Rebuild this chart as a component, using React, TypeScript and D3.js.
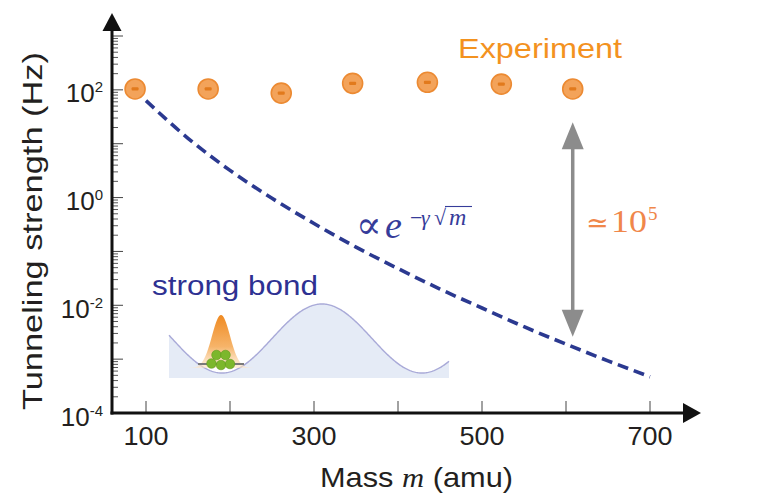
import React, { useEffect, useRef } from "react";
import * as d3 from "d3";

// x axis (mass, amu)
const massTicks = [100, 200, 300, 400, 500, 600, 700];
const massLabels = [100, 300, 500, 700];
// y axis (log decades)
const decades = [-4, -3, -2, -1, 0, 1, 2, 3];
const labelledDecades = [-4, -2, 0, 2];

// experiment points
const expMass = [87, 174, 261, 346, 435, 523, 608];
const expStrength = [104, 104, 87, 132, 138, 128, 104];

// theory curve (dashed)
const theoryMass = [100, 150, 200, 250, 300, 350, 400, 450, 500, 550, 600, 650, 700];
const theoryStrength = [63, 12.6, 3.2, 0.97, 0.33, 0.12, 0.048, 0.02, 0.0089, 0.004, 0.0019, 0.00093, 0.00047];

// the ~10^5 gap arrow
const gapMass = 608;
const gapRange = [25, 0.0026];

const W = 761;
const H = 502;
const SANS = "'Liberation Sans', Arial, Helvetica, sans-serif";
const SERIF = "'Liberation Serif', 'DejaVu Serif', 'Times New Roman', serif";

const App = () => {
  const ref = useRef<SVGSVGElement>(null);

  useEffect(() => {
    if (!ref.current) return;
    const svg = d3.select(ref.current);
    svg.selectAll("*").remove();

    const x = d3.scaleLinear().domain([100, 700]).range([146, 650]);
    const y = d3.scaleLog().domain([1e-4, 1e3]).range([413, 36]);
    const x0 = 112; // y axis position
    const y0 = 413; // x axis position

    // ---- inset: double well schematic ----
    const inset = svg.append("g");
    const wellPts = d3.range(169, 450, 1).map((px) => [
      px,
      338.5 + 34.5 * Math.cos((2 * Math.PI * (px - 222)) / 200),
    ]) as [number, number][];
    const area = d3.area<[number, number]>().x((d) => d[0]).y0(378).y1((d) => d[1]);
    inset.append("path").attr("d", area(wellPts)).attr("fill", "#e5ebf6");
    inset
      .append("path")
      .attr("d", d3.line()(wellPts))
      .attr("fill", "none")
      .attr("stroke", "#a9aad8")
      .attr("stroke-width", 1.4);

    const defs = svg.append("defs");
    const grad = defs
      .append("linearGradient")
      .attr("id", "wave")
      .attr("x1", 0)
      .attr("y1", 0)
      .attr("x2", 0)
      .attr("y2", 1);
    grad.append("stop").attr("offset", "0%").attr("stop-color", "#ef8a22");
    grad.append("stop").attr("offset", "60%").attr("stop-color", "#f6b46a");
    grad.append("stop").attr("offset", "100%").attr("stop-color", "#fde6c8").attr("stop-opacity", 0.6);

    const gauss = d3.range(188, 256, 1).map((px) => [
      px,
      368 - 53 * Math.exp(-((px - 221) ** 2) / (2 * 9 * 9)),
    ]) as [number, number][];
    inset
      .append("path")
      .attr("d", d3.area<[number, number]>().x((d) => d[0]).y0(368).y1((d) => d[1])(gauss))
      .attr("fill", "url(#wave)");
    inset
      .append("line")
      .attr("x1", 198)
      .attr("x2", 244)
      .attr("y1", 364)
      .attr("y2", 364)
      .attr("stroke", "#7a7a7a")
      .attr("stroke-width", 2.2);
    const balls = [
      [216.5, 355],
      [225.5, 355],
      [211.5, 363.5],
      [221, 365],
      [230, 364],
    ];
    inset
      .selectAll("circle")
      .data(balls)
      .join("circle")
      .attr("cx", (d) => d[0])
      .attr("cy", (d) => d[1])
      .attr("r", 4.8)
      .attr("fill", "#7cb72c")
      .attr("stroke", "#5f9a1c")
      .attr("stroke-width", 0.6);

    // ---- ticks ----
    const tickColor = "#444";
    svg
      .append("g")
      .selectAll("line")
      .data(massTicks)
      .join("line")
      .attr("x1", (d) => x(d))
      .attr("x2", (d) => x(d))
      .attr("y1", y0)
      .attr("y2", y0 - 12)
      .attr("stroke", tickColor)
      .attr("stroke-width", 1);

    const minor: number[] = [];
    decades.slice(0, -1).forEach((d) => {
      for (let k = 2; k <= 9; k++) minor.push(k * Math.pow(10, d));
    });
    svg
      .append("g")
      .selectAll("line")
      .data(minor)
      .join("line")
      .attr("x1", x0)
      .attr("x2", x0 + 6)
      .attr("y1", (d) => y(d))
      .attr("y2", (d) => y(d))
      .attr("stroke", tickColor)
      .attr("stroke-width", 0.9);
    svg
      .append("g")
      .selectAll("line")
      .data(decades)
      .join("line")
      .attr("x1", x0)
      .attr("x2", x0 + 11)
      .attr("y1", (d) => y(Math.pow(10, d)))
      .attr("y2", (d) => y(Math.pow(10, d)))
      .attr("stroke", tickColor)
      .attr("stroke-width", 1);

    // ---- axes with arrows ----
    svg
      .append("line")
      .attr("x1", x0)
      .attr("x2", x0)
      .attr("y1", y0 + 1.5)
      .attr("y2", 24)
      .attr("stroke", "#111")
      .attr("stroke-width", 3);
    svg
      .append("path")
      .attr("d", `M${x0},13 L${x0 + 9.5},31 L${x0 - 9.5},31 Z`)
      .attr("fill", "#111");
    svg
      .append("line")
      .attr("x1", x0 - 1.5)
      .attr("x2", 690)
      .attr("y1", y0)
      .attr("y2", y0)
      .attr("stroke", "#111")
      .attr("stroke-width", 3);
    svg
      .append("path")
      .attr("d", `M701,${y0} L683,${y0 - 10} L683,${y0 + 10} Z`)
      .attr("fill", "#111");

    // ---- tick labels ----
    svg
      .append("g")
      .selectAll("text")
      .data(massLabels)
      .join("text")
      .attr("x", (d) => x(d))
      .attr("y", 445)
      .attr("text-anchor", "middle")
      .attr("font-family", SANS)
      .attr("font-size", 25)
      .attr("fill", "#231f20")
      .attr("textLength", 45)
      .attr("lengthAdjust", "spacingAndGlyphs")
      .text((d) => d);

    const yl = svg
      .append("g")
      .selectAll("text")
      .data(labelledDecades)
      .join("text")
      .attr("x", 103)
      .attr("y", (d) => y(Math.pow(10, d)) + 12.5)
      .attr("text-anchor", "end")
      .attr("font-family", SANS)
      .attr("fill", "#231f20");
    yl.append("tspan").attr("font-size", 26).text("10");
    yl.append("tspan")
      .attr("font-size", 15)
      .attr("dy", -10)
      .text((d) => String(d));

    // ---- axis titles ----
    const xt = svg
      .append("text")
      .attr("x", 320)
      .attr("y", 487)
      .attr("font-family", SANS)
      .attr("font-size", 28)
      .attr("fill", "#231f20")
      .attr("textLength", 193)
      .attr("lengthAdjust", "spacingAndGlyphs");
    xt.append("tspan").text("Mass ");
    xt.append("tspan").attr("font-family", SERIF).attr("font-style", "italic").text("m");
    xt.append("tspan").text(" (amu)");

    svg
      .append("text")
      .attr("transform", "translate(42,231) rotate(-90)")
      .attr("text-anchor", "middle")
      .attr("font-family", SANS)
      .attr("font-size", 28)
      .attr("fill", "#231f20")
      .attr("textLength", 358)
      .attr("lengthAdjust", "spacingAndGlyphs")
      .text("Tunneling strength (Hz)");

    // ---- theory curve ----
    const line = d3
      .line<number>()
      .x((_, i) => x(theoryMass[i]))
      .y((d) => y(d))
      .curve(d3.curveMonotoneX);
    svg
      .append("path")
      .attr("d", line(theoryStrength))
      .attr("fill", "none")
      .attr("stroke", "#2b3990")
      .attr("stroke-width", 3.6)
      .attr("stroke-dasharray", "11 6");

    // ---- gap arrow ----
    const gx = x(gapMass);
    const gTop = y(gapRange[0]);
    const gBot = y(gapRange[1]);
    svg
      .append("line")
      .attr("x1", gx)
      .attr("x2", gx)
      .attr("y1", gTop + 20)
      .attr("y2", gBot - 20)
      .attr("stroke", "#8c8c8c")
      .attr("stroke-width", 3.5);
    svg
      .append("path")
      .attr("d", `M${gx},${gTop} L${gx + 11},${gTop + 27} L${gx - 11},${gTop + 27} Z`)
      .attr("fill", "#8c8c8c");
    svg
      .append("path")
      .attr("d", `M${gx},${gBot} L${gx + 11},${gBot - 27} L${gx - 11},${gBot - 27} Z`)
      .attr("fill", "#8c8c8c");

    // ---- experiment points ----
    const pts = svg
      .append("g")
      .selectAll("g")
      .data(expStrength)
      .join("g")
      .attr("transform", (d, i) => `translate(${x(expMass[i])},${y(d)})`);
    pts
      .append("circle")
      .attr("r", 10)
      .attr("fill", "#f3a35a")
      .attr("stroke", "#ec8a32")
      .attr("stroke-width", 1.6);
    pts
      .append("rect")
      .attr("x", -3.5)
      .attr("y", -1.6)
      .attr("width", 7)
      .attr("height", 3.2)
      .attr("rx", 1)
      .attr("fill", "#e27a1c");

    // ---- annotations ----
    svg
      .append("text")
      .attr("x", 458)
      .attr("y", 58)
      .attr("font-family", SANS)
      .attr("font-size", 28)
      .attr("fill", "#f3921f")
      .attr("textLength", 164)
      .attr("lengthAdjust", "spacingAndGlyphs")
      .text("Experiment");

    svg
      .append("text")
      .attr("x", 152)
      .attr("y", 295)
      .attr("font-family", SANS)
      .attr("font-size", 27)
      .attr("fill", "#2e3192")
      .attr("textLength", 166)
      .attr("lengthAdjust", "spacingAndGlyphs")
      .text("strong bond");

    const f = svg
      .append("text")
      .attr("y", 238)
      .attr("font-family", SERIF)
      .attr("fill", "#363c9a");
    f.append("tspan").attr("x", 356).attr("font-size", 38).text("∝");
    f.append("tspan").attr("x", 385).attr("font-size", 38).attr("font-style", "italic").text("e");
    f.append("tspan").attr("x", 410).attr("y", 225).attr("font-size", 22).text("−");
    f.append("tspan").attr("x", 421).attr("y", 225).attr("font-size", 22).attr("font-style", "italic").text("γ");
    f.append("tspan").attr("x", 434).attr("y", 225).attr("font-size", 22).text("√");
    f.append("tspan").attr("x", 449).attr("y", 225).attr("font-size", 24).attr("font-style", "italic").text("m");
    svg
      .append("line")
      .attr("x1", 445)
      .attr("x2", 472)
      .attr("y1", 206.5)
      .attr("y2", 206.5)
      .attr("stroke", "#363c9a")
      .attr("stroke-width", 1.1);

    const g = svg
      .append("text")
      .attr("y", 232)
      .attr("font-family", SERIF)
      .attr("fill", "#f0874a");
    g.append("tspan").attr("x", 586).attr("font-family", "'DejaVu Serif', serif").attr("font-size", 27).text("≃");
    g.append("tspan")
      .attr("x", 611)
      .attr("font-size", 31)
      .attr("textLength", 36)
      .attr("lengthAdjust", "spacingAndGlyphs")
      .text("10");
    g.append("tspan").attr("x", 648).attr("y", 220).attr("font-size", 19).text("5");
  }, []);

  return (
    <svg
      ref={ref}
      width={W}
      height={H}
      style={{ position: "absolute", left: 0, top: 0, background: "#fff" }}
    />
  );
};

export default App;
